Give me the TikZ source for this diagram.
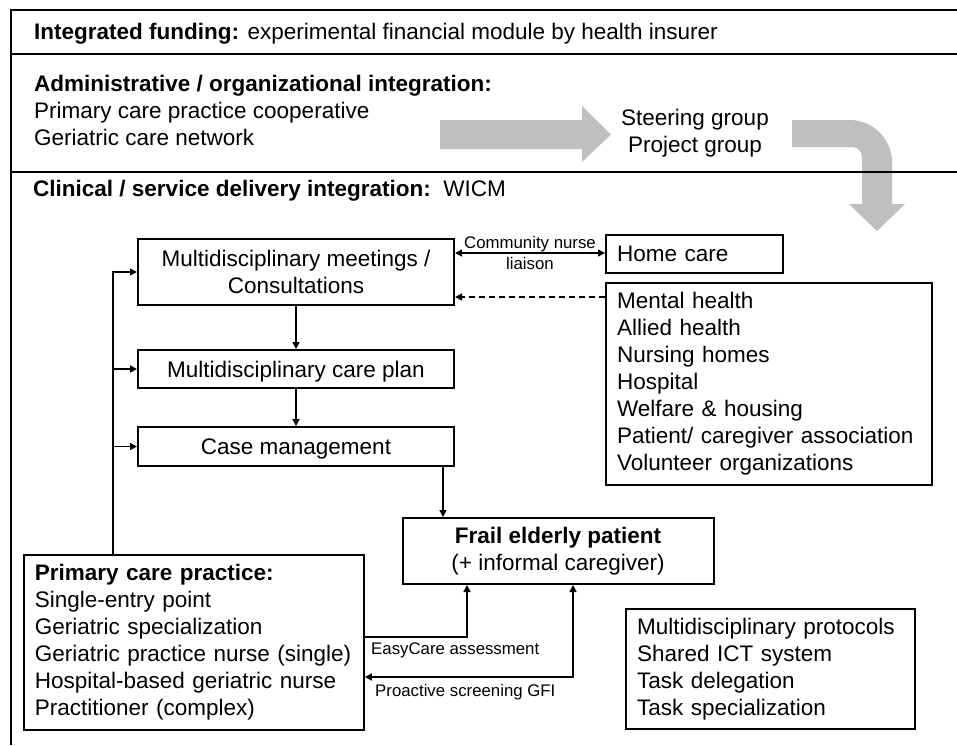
\documentclass[tikz,border=0pt]{standalone}
\usepackage{fontspec}
\setmainfont{Liberation Sans}
\usetikzlibrary{arrows.meta}
\newcommand{\mainsize}{\fontsize{22.5}{27}\selectfont}
\newcommand{\labelsize}{\fontsize{16.8}{21}\selectfont}
\tikzset{
    box/.style={draw, line width=2pt, inner sep=0pt, font=\mainsize},
    plain/.style={inner sep=0pt, font=\mainsize, align=left},
    lab/.style={inner sep=0pt, font=\labelsize},
    link/.style={line width=1.5pt, arrows={-Triangle[length=7pt,width=7pt]}},
    twoway/.style={line width=1.5pt, arrows={Triangle[length=7pt,width=7pt]-Triangle[length=7pt,width=7pt]}},
    bigarrow/.style={fill=gray!50},
}

\begin{document}
\begin{tikzpicture}[x=1pt, y=-1pt]
    \useasboundingbox (0,0) rectangle (957,745);
    % big arrows:
    \fill[bigarrow] (440,120) -- (582,120) -- (582,106) -- (611,134.5) -- (582,162) -- (582,149) -- (440,149) -- cycle;
    \fill[bigarrow] (792,120) -- (850,120) .. controls (873,120) and (892,139) .. (892,162) -- (892,204) -- (905,204) -- (877,231) -- (849,204) -- (862,204) -- (862,157) .. controls (862,151.5) and (857.5,147) .. (852,147) -- (792,147) -- cycle;
    % frame:
    \draw[line width=1.3pt] (957,10) -- (11,10) -- (11,745);
    \draw[line width=1.3pt] (11,54) -- (957,54);
    \draw[line width=1.3pt] (11,172) -- (957,172);
    % headings:
    \node[plain, anchor=base west] (funding) at (34,39) {\textbf{Integrated funding:} experimental financial module by health insurer};
    \node[plain, anchor=north west] (admin) at (34,74.6) {\textbf{Administrative / organizational integration:}\\Primary care practice cooperative\\Geriatric care network};
    \node[plain, align=center] (groups) at (695,133) {Steering group\\Project group};
    \node[plain, anchor=base west] (clinical) at (33,196) {\textbf{Clinical / service delivery integration:}\ \ WICM};
    % boxes:
    \node[box, minimum width=316pt, minimum height=66pt, align=center] (meetings) at (296,272) {Multidisciplinary meetings /\\Consultations};
    \node[box, minimum width=316pt, minimum height=38pt, text depth=0pt] (careplan) at (296,369) {Multidisciplinary care plan};
    \node[box, minimum width=316pt, minimum height=39pt, text depth=0pt] (casemgmt) at (296,446.5) {Case management};
    \node[box, text width=155pt, inner xsep=11pt, minimum height=38pt, align=left] (homecare) at (694.5,254) {Home care};
    \node[box, text width=304pt, inner xsep=11pt, minimum height=202pt, align=left] (services) at (769,384) {Mental health\\Allied health\\Nursing homes\\Hospital\\Welfare \& housing\\Patient/ caregiver association\\Volunteer organizations};
    \node[box, minimum width=311pt, minimum height=66pt, align=center] (patient) at (558,551) {\textbf{Frail elderly patient}\\(+ informal caregiver)};
    \node[box, text width=318pt, inner xsep=11pt, minimum height=175pt, align=left] (practice) at (193.8,642.5) {\textbf{Primary care practice:}\\Single-entry point\\Geriatric specialization\\Geriatric practice nurse (single)\\Hospital-based geriatric nurse\\Practitioner (complex)};
    \node[box, text width=267pt, inner xsep=11pt, minimum height=120pt, align=left] (protocols) at (770.5,669) {Multidisciplinary protocols\\Shared ICT system\\Task delegation\\Task specialization};
    % connectors:
    \coordinate (spine) at (113,0);
    \draw[link] (practice.north -| spine) |- (meetings.west);
    \draw[link] (spine |- careplan.west) -- (careplan.west);
    \draw[link] (spine |- casemgmt.west) -- (casemgmt.west);
    \draw[link] (meetings.south) -- (careplan.north);
    \draw[link] (careplan.south) -- (casemgmt.north);
    \coordinate (drop) at (443,0);
    \draw[link] (casemgmt.south -| drop) -- (patient.north -| drop);
    \coordinate (liaisonrow) at (0,253);
    \draw[twoway] (meetings.east |- liaisonrow) -- (homecare.west |- liaisonrow) node[lab, midway, align=center] (liaisonlab) {Community nurse\\liaison};
    \coordinate (dashrow) at (0,297);
    \draw[link, dash pattern=on 6pt off 4pt] (services.west |- dashrow) -- (meetings.east |- dashrow);
    \coordinate (easycol) at (467,0);
    \coordinate (easyrow) at (0,637);
    \draw[link] (practice.east |- easyrow) -| (patient.south -| easycol);
    \node[lab, anchor=west] (easylab) at (371,650) {EasyCare assessment};
    \coordinate (screencol) at (573,0);
    \coordinate (screenrow) at (0,677);
    \draw[twoway] (patient.south -| screencol) |- (practice.east |- screenrow);
    \node[lab, anchor=west] (screenlab) at (375,692) {Proactive screening GFI};
\end{tikzpicture}
\end{document}
